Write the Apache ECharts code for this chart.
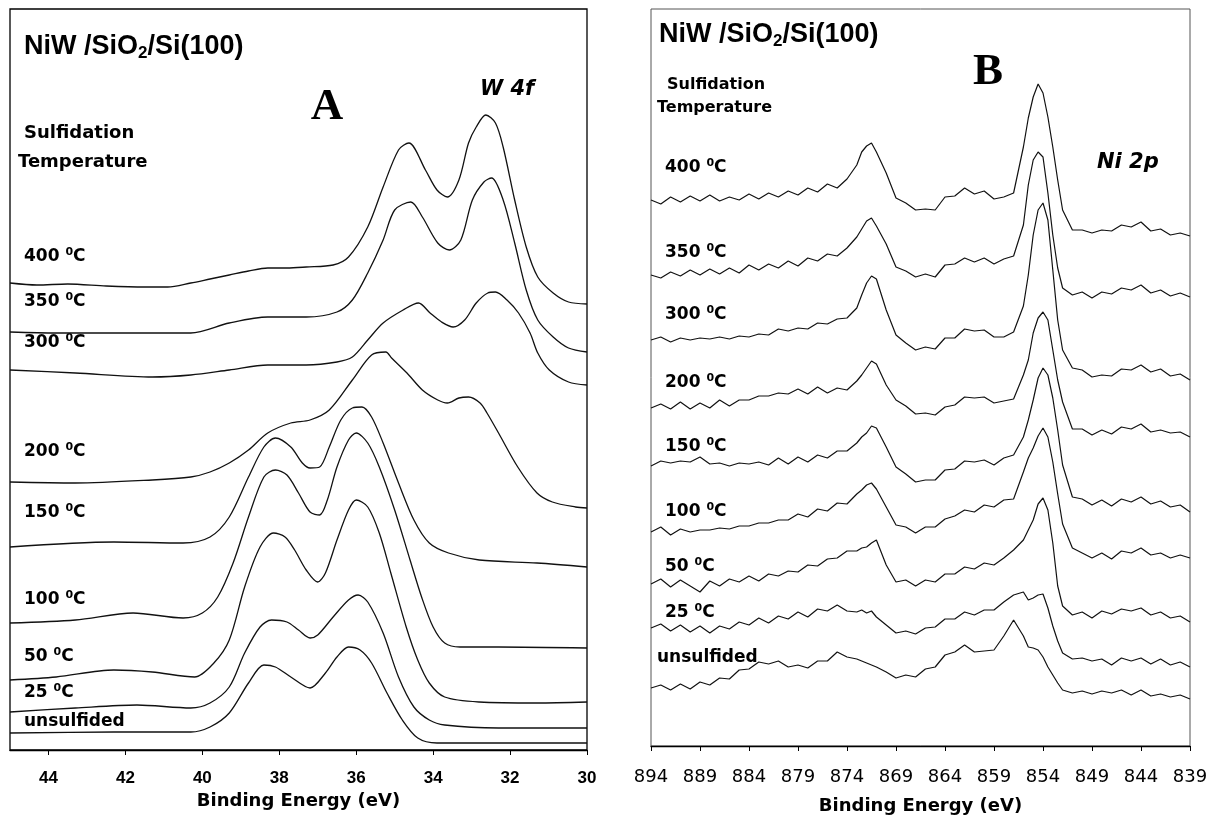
<!DOCTYPE html>
<html>
<head>
<meta charset="utf-8">
<title>NiW/SiO2/Si(100) XPS</title>
<script src="https://cdn.jsdelivr.net/npm/echarts@6.0.0/dist/echarts.min.js"></script>
<style>
  html, body { margin: 0; padding: 0; background: #fff; }
  #chart { width: 1210px; height: 815px; }
</style>
</head>
<body>
<div id="chart"></div>
<script>
// ---- panel A : W 4f, [binding energy (eV), intensity (a.u., offset)] ----
const a400 = [[45,46.7],[44.3,46.5],[43.5,46.6],[42.5,46.4],[41.5,46.3],[40.9,46.3],[40.3,46.7],[39.8,47.1],[39.3,47.5],[38.8,47.9],[38.3,48.2],[37.8,48.2],[37.3,48.3],[36.6,48.5],[36.2,49.3],[35.7,52.3],[35.3,56.3],[34.9,60.0],[34.63,60.7],[34.2,58.0],[33.9,56.0],[33.63,55.3],[33.33,57.0],[33.08,60.7],[32.88,62.3],[32.63,63.5],[32.38,62.7],[32.18,60.3],[31.88,55.0],[31.58,50.3],[31.28,47.3],[30.88,45.7],[30.48,44.8],[30,44.6]];
const a350 = [[45,41.8],[43.8,41.7],[42.3,41.7],[40.3,41.7],[39.3,42.7],[38.3,43.3],[37.3,43.3],[36.5,43.8],[36.1,45.0],[35.7,47.7],[35.3,51.0],[35.0,54.0],[34.58,54.8],[34.28,53.3],[33.88,50.7],[33.58,50.0],[33.28,51.0],[32.98,55.0],[32.68,56.8],[32.48,57.2],[32.18,55.0],[31.88,50.7],[31.58,46.0],[31.28,43.0],[30.88,41.3],[30.48,40.2],[30,39.8]];
const a300 = [[45,38.0],[43.3,37.7],[41.3,37.3],[40.3,37.5],[39.3,38.0],[38.3,38.5],[37.3,38.5],[36.5,38.8],[36.1,39.3],[35.7,41.0],[35.3,42.7],[34.78,44.0],[34.38,44.7],[34.08,43.7],[33.78,42.8],[33.48,42.3],[33.18,43.0],[32.88,44.7],[32.58,45.7],[32.38,45.8],[32.08,45.0],[31.78,43.7],[31.48,41.7],[31.28,39.7],[30.98,38.0],[30.48,36.8],[30,36.5]];
const a200 = [[45,26.8],[43.3,26.7],[41.3,27.0],[40.3,27.3],[39.8,27.8],[39.3,28.7],[38.8,30.0],[38.3,31.7],[37.7,32.7],[37.2,33.0],[36.7,34.0],[36.1,37.0],[35.6,39.5],[35.23,39.8],[35.08,39.2],[34.68,37.7],[34.28,36.0],[33.88,35.0],[33.63,34.7],[33.33,35.2],[33.08,35.3],[32.78,34.7],[32.6,33.7],[32.3,31.7],[31.8,28.3],[31.3,25.7],[30.9,24.8],[30.3,24.3],[30,24.2]];
const a150 = [[45,20.3],[42.3,20.8],[40.5,20.7],[39.8,21.3],[39.3,23.3],[38.8,27.3],[38.4,30.3],[38.1,31.2],[37.7,30.3],[37.4,28.7],[37.2,28.2],[36.95,28.3],[36.7,30.3],[36.4,33.0],[36.1,34.2],[35.85,34.3],[35.6,33.3],[35.3,30.7],[34.9,26.7],[34.5,23.0],[34.1,20.7],[33.6,19.7],[32.8,19.0],[31.3,18.7],[30,18.3]];
const a100 = [[45,12.7],[43.3,13.0],[41.8,13.7],[40.5,13.2],[40.0,13.7],[39.6,15.3],[39.2,18.7],[38.8,23.3],[38.4,27.3],[38.1,28.0],[37.8,27.5],[37.5,25.7],[37.2,23.8],[36.95,23.5],[36.75,25.0],[36.5,28.3],[36.2,31.0],[36.0,31.7],[35.7,30.7],[35.4,28.3],[35.0,24.0],[34.6,19.0],[34.3,15.3],[34.0,12.3],[33.7,10.7],[33.3,10.3],[32.3,10.3],[30,10.2]];
const a50 = [[45,7.0],[43.8,7.3],[42.3,8.0],[41.3,7.8],[40.2,7.3],[39.7,8.7],[39.3,11.0],[38.9,16.3],[38.5,20.3],[38.15,21.7],[37.85,21.3],[37.6,20.0],[37.3,18.0],[37.0,16.8],[36.8,17.7],[36.5,21.0],[36.2,24.0],[36.0,25.0],[35.7,24.3],[35.4,21.7],[35.1,17.7],[34.7,12.3],[34.4,9.0],[34.1,6.7],[33.7,5.3],[32.8,4.8],[31.3,4.7],[30,4.8]];
const a25 = [[45,3.8],[43.3,4.2],[41.7,4.5],[40.3,4.2],[39.8,4.7],[39.3,6.3],[38.9,9.7],[38.5,12.3],[38.2,13.0],[37.8,12.8],[37.5,12.0],[37.2,11.2],[37.0,11.5],[36.6,13.3],[36.2,15.0],[35.95,15.5],[35.7,14.8],[35.3,11.7],[34.9,7.3],[34.5,4.3],[34.1,3.0],[33.7,2.5],[32.3,2.2],[30,2.2]];
const aUns = [[45,1.7],[42.3,1.8],[40.3,1.8],[39.8,2.3],[39.3,3.7],[38.8,6.7],[38.4,8.5],[38.1,8.3],[37.7,7.3],[37.2,6.2],[36.8,7.7],[36.5,9.3],[36.2,10.3],[35.9,10.0],[35.6,8.7],[35.2,5.7],[34.8,3.0],[34.4,1.2],[33.9,0.7],[32.3,0.7],[30,0.7]];

// ---- panel B : Ni 2p, shared energy grid (eV) + intensities (a.u., offset) ----
const energyB = [894,893,892,891,890,889,888,887,886,885,884,883,882,881,880,879,878,877,876,875,874,873,
  872.5,872,871.5,871,
  870,869,868,867,866,865,864,863,862,861,860,859,858,857,856,
  855.5,855,854.5,854,853.5,853,852.5,852,
  851,850,849,848,847,846,845,844,843,842,841,840,839];
const b400 = [54.6,54.2,54.9,54.4,55.0,54.5,55.1,54.5,54.9,54.6,55.2,54.7,55.3,54.9,55.5,55.1,55.8,55.4,56.2,55.8,56.7,58.1,
  59.4,60.0,60.3,59.4,
  57.3,54.8,54.3,53.6,53.7,53.6,54.9,55.0,55.8,55.2,55.5,54.7,54.9,55.3,59.9,
  62.8,64.9,66.2,65.3,62.9,59.9,56.6,53.6,
  51.6,51.6,51.3,51.6,51.5,52.1,51.9,52.4,51.5,51.7,51.1,51.3,51.0];
const b350 = [47.1,46.8,47.4,47.0,47.6,47.1,47.7,47.2,47.8,47.3,48.1,47.6,48.2,47.8,48.5,48.0,48.8,48.5,49.2,49.0,49.8,50.9,
  51.7,52.5,52.8,52.0,
  50.2,47.9,47.5,46.9,47.2,46.9,48.1,48.2,48.8,48.4,48.8,48.2,48.7,49.0,52.1,
  56.1,58.6,59.4,58.9,55.3,51.1,47.8,45.8,
  45.1,45.4,44.8,45.4,45.2,45.8,45.6,46.1,45.3,45.6,45.0,45.3,44.9];
const b300 = [40.6,40.9,40.4,40.8,40.6,40.8,40.7,40.9,40.7,41.0,40.9,41.2,41.1,41.7,41.5,41.8,41.7,42.3,42.2,42.7,42.8,43.8,
  45.1,46.3,47.0,46.7,
  43.6,41.1,40.3,39.6,39.9,39.7,40.8,40.8,41.7,41.5,41.6,40.9,40.9,41.4,44.0,
  47.1,51.1,53.6,54.3,52.6,47.6,42.6,39.6,
  37.8,37.6,36.9,37.1,37.0,37.7,37.6,38.1,37.4,37.7,37.0,37.2,36.6];
const b200 = [33.8,34.2,33.7,34.4,33.7,34.3,33.8,34.6,34.0,34.6,34.6,35.0,35.0,35.3,35.2,35.7,35.2,35.9,35.3,35.8,35.6,36.5,
  37.1,37.8,38.5,38.2,
  36.1,34.6,34.0,33.2,33.3,33.1,33.9,34.1,34.9,34.8,34.9,34.3,34.5,34.7,37.1,
  38.6,41.3,42.8,43.4,42.6,39.6,36.6,34.4,
  31.7,31.7,31.1,31.6,31.2,31.9,31.7,32.2,31.4,31.6,31.3,31.4,30.9];
const b150 = [28.0,28.5,28.3,28.5,28.4,28.9,28.2,28.3,28.0,28.3,28.2,28.4,28.1,28.8,28.2,28.9,28.4,29.1,28.8,29.5,29.5,30.3,
  30.9,31.3,32.0,31.8,
  29.9,27.9,27.2,26.4,26.6,26.6,27.6,27.7,28.5,28.4,28.6,28.1,28.8,29.1,30.9,
  32.6,34.6,36.8,37.8,37.1,34.8,31.6,28.1,
  24.9,24.7,24.1,24.6,24.0,24.7,24.4,24.9,24.2,24.5,23.9,24.1,23.4];
const b100 = [21.4,21.9,21.1,21.7,21.4,21.6,21.6,21.8,21.7,22.0,22.0,22.3,22.3,22.6,22.6,23.2,22.9,23.7,23.5,24.3,24.2,25.2,
  25.6,26.1,26.3,25.7,
  23.9,22.1,21.9,21.3,21.9,21.9,22.7,23.0,23.6,23.4,24.1,23.9,24.6,24.7,27.4,
  28.8,29.8,31.0,31.8,30.9,28.4,25.2,22.2,
  19.8,19.3,18.8,19.3,18.7,19.5,19.3,19.8,19.1,19.3,18.8,19.1,18.8];
const b50 = [16.2,16.7,15.9,16.6,16.0,15.4,16.5,16.0,16.7,16.4,17.0,16.5,17.2,17.0,17.5,17.4,18.1,18.0,18.7,18.8,19.5,19.5,
  19.8,19.9,20.3,20.6,
  18.1,16.4,16.6,16.0,16.6,16.4,17.2,17.2,17.9,17.7,18.3,18.1,18.8,19.6,20.6,
  21.6,22.6,24.2,24.8,23.6,20.3,16.0,14.0,
  13.1,13.4,12.8,13.5,13.2,13.7,13.5,13.8,13.1,13.4,12.8,13.0,12.4];
const b25 = [11.8,12.2,11.5,12.1,11.4,12.0,11.3,12.0,11.7,12.4,12.1,12.8,12.3,13.0,12.7,13.4,12.9,13.7,13.5,14.1,13.5,13.4,
  13.6,13.3,13.5,12.9,
  12.1,11.3,11.5,11.2,11.8,11.9,12.7,12.7,13.4,13.1,13.6,13.6,14.4,15.1,15.4,
  14.6,14.8,15.1,15.2,13.8,12.0,10.5,9.3,
  8.7,8.8,8.5,8.7,8.1,8.8,8.5,8.8,8.2,8.7,8.1,8.4,7.9];
const bUns = [5.8,6.1,5.6,6.2,5.7,6.4,6.1,6.8,6.7,7.6,7.7,8.4,8.2,8.5,7.9,8.1,7.8,8.5,8.5,9.4,8.9,8.7,
  8.5,8.3,8.1,7.9,
  7.4,6.8,7.1,6.9,7.7,7.9,9.1,9.4,10.1,9.4,9.5,9.6,11.0,12.6,11.0,
  9.9,9.8,9.6,8.9,7.9,7.1,6.3,5.6,
  5.3,5.5,5.2,5.5,5.3,5.6,5.1,5.6,5.0,5.2,4.9,5.1,4.7];

const temps = ['400', '350', '300', '200', '150', '100', '50', '25', 'unsulfided'];
const ticksA = [44, 42, 40, 38, 36, 34, 32, 30];
const ticksB = [894, 889, 884, 879, 874, 869, 864, 859, 854, 849, 844, 839];

const curvesA = [a400, a350, a300, a200, a150, a100, a50, a25, aUns];
const curvesB = [b400, b350, b300, b200, b150, b100, b50, b25, bUns];

// label layout (px): vertical centres of the temperature labels
const labelYA = [257, 302, 343, 452, 513, 600, 657, 693, 722];
const labelYB = [168, 253, 315, 383, 447, 512, 567, 613, 658];

const chart = echarts.init(document.getElementById('chart'));

function tempLabel(text, x, y, size) {
  const sup = Math.round(size * 0.66);
  const rich = {
    t: { fontFamily: 'DejaVu Sans', fontWeight: 'bold', fontSize: size, lineHeight: size + 4, fill: '#000' },
    u: { fontFamily: 'DejaVu Sans', fontWeight: 'bold', fontSize: sup, lineHeight: sup, verticalAlign: 'top', fill: '#000' }
  };
  const str = text === 'unsulfided' ? '{t|unsulfided}' : '{t|' + text + ' }{u|0}{t|C}';
  return { type: 'text', x: x, y: y, silent: true, style: { text: str, rich: rich, align: 'left', verticalAlign: 'middle' } };
}

function plainText(text, x, y, font, size, weight, style) {
  return {
    type: 'text', x: x, y: y, silent: true,
    style: { text: text, fontFamily: font, fontSize: size, fontWeight: weight, fontStyle: style || 'normal',
      fill: '#000', align: 'left', verticalAlign: 'middle' }
  };
}

function titleText(x, y) {
  return {
    type: 'text', x: x, y: y, silent: true,
    style: {
      text: '{m|NiW /SiO}{s|2}{m|/Si(100)}',
      align: 'left', verticalAlign: 'middle',
      rich: {
        m: { fontFamily: 'Liberation Sans', fontWeight: 'bold', fontSize: 27, lineHeight: 30, fill: '#000' },
        s: { fontFamily: 'Liberation Sans', fontWeight: 'bold', fontSize: 17, lineHeight: 12, verticalAlign: 'bottom', fill: '#000' }
      }
    }
  };
}

function panelLetter(letter, x, y) {
  return {
    type: 'text', x: x, y: y, silent: true,
    style: { text: letter, fontFamily: 'Liberation Serif', fontWeight: 'bold', fontSize: 45,
      fill: '#000', align: 'center', verticalAlign: 'middle' }
  };
}

const graphic = [
  titleText(24, 47),
  panelLetter('A', 327, 107),
  plainText('W 4f', 480, 90, 'DejaVu Sans', 21, 'bold', 'italic'),
  plainText('Sulfidation', 24, 133, 'DejaVu Sans', 18, 'bold'),
  plainText('Temperature', 18, 162, 'DejaVu Sans', 18, 'bold'),

  titleText(659, 35),
  panelLetter('B', 988, 72),
  plainText('Ni 2p', 1097, 163, 'DejaVu Sans', 21, 'bold', 'italic'),
  plainText('Sulfidation', 667, 85, 'DejaVu Sans', 16, 'bold'),
  plainText('Temperature', 657, 108, 'DejaVu Sans', 16, 'bold')
];
temps.forEach(function (t, i) {
  graphic.push(tempLabel(t, 24, labelYA[i], 17));
  graphic.push(tempLabel(t, t === 'unsulfided' ? 657 : 665, labelYB[i], 17));
});

const seriesA = curvesA.map(function (d, i) {
  return {
    name: 'W 4f ' + temps[i], type: 'line', xAxisIndex: 0, yAxisIndex: 0,
    data: d, symbol: 'none', smooth: 0.3, silent: true,
    lineStyle: { color: '#111', width: 1.3 }
  };
});
const seriesB = curvesB.map(function (vals, i) {
  return {
    name: 'Ni 2p ' + temps[i], type: 'line', xAxisIndex: 1, yAxisIndex: 1,
    data: energyB.map(function (e, j) { return [e, vals[j]]; }),
    symbol: 'none', silent: true,
    lineStyle: { color: '#111', width: 1.2 }
  };
});

const option = {
  backgroundColor: '#fff',
  animation: false,
  grid: [
    { left: 10, top: 9, right: 623, bottom: 65, show: true, borderColor: '#000', borderWidth: 1.3,
      containLabel: false, outerBoundsMode: 'none' },
    { left: 651, top: 9, right: 20, bottom: 69, show: true, borderColor: '#555', borderWidth: 1,
      containLabel: false, outerBoundsMode: 'none' }
  ],
  xAxis: [
    {
      gridIndex: 0, type: 'value', min: 30, max: 45, inverse: true,
      name: 'Binding Energy (eV)', nameLocation: 'middle', nameGap: 36,
      nameTextStyle: { fontFamily: 'DejaVu Sans', fontWeight: 'bold', fontSize: 18, color: '#000' },
      axisLine: { lineStyle: { color: '#000', width: 1.3 } },
      axisTick: { customValues: ticksA, length: 5, lineStyle: { color: '#000', width: 1 } },
      axisLabel: { customValues: ticksA, margin: 20, fontFamily: 'Liberation Sans', fontWeight: 'bold', fontSize: 17, color: '#000' },
      splitLine: { show: false }
    },
    {
      gridIndex: 1, type: 'value', min: 839, max: 894, inverse: true,
      name: 'Binding Energy (eV)', nameLocation: 'middle', nameGap: 51,
      nameTextStyle: { fontFamily: 'DejaVu Sans', fontWeight: 'bold', fontSize: 18, color: '#000' },
      axisLine: { lineStyle: { color: '#000', width: 1.3 } },
      axisTick: { customValues: ticksB, length: 5, lineStyle: { color: '#000', width: 1 } },
      axisLabel: { customValues: ticksB, margin: 22, fontFamily: 'DejaVu Sans', fontSize: 18, color: '#000' },
      splitLine: { show: false }
    }
  ],
  yAxis: [
    { gridIndex: 0, type: 'value', min: 0, max: 74.1, show: false },
    { gridIndex: 1, type: 'value', min: 0, max: 73.7, show: false }
  ],
  graphic: graphic,
  series: seriesA.concat(seriesB)
};

chart.setOption(option);
</script>
</body>
</html>
